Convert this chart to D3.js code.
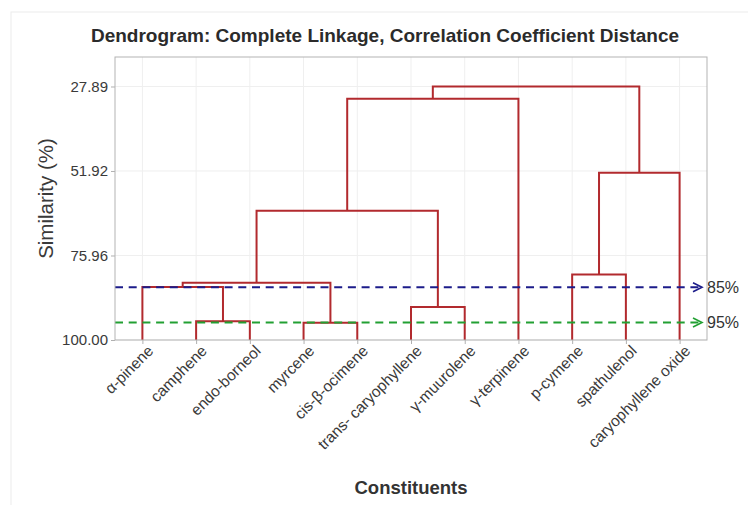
<!DOCTYPE html>
<html>
<head>
<meta charset="utf-8">
<script src="https://cdn.jsdelivr.net/npm/d3@7"></script>
<style>
  body { margin: 0; background: #fff; }
  text { font-family: "Liberation Sans", Arial, sans-serif; }
</style>
</head>
<body>
<div id="chart"></div>
<script>
var width = 748, height = 505;

// leaves in plotted order
var leaves = ["α-pinene", "camphene", "endo-borneol", "myrcene", "cis-β-ocimene",
  "trans- caryophyllene", "γ-muurolene", "γ-terpinene", "p-cymene", "spathulenol",
  "caryophyllene oxide"];

// hclust style merges: negative = leaf (1-based), positive = earlier merge row
var mergeLeft  = [-2, -4, -1, -6, -9, 3, 6, 5, 7, 9];
var mergeRight = [-3, -5, 1, -7, -10, 2, 4, -11, -8, 8];
var mergeSim   = [94.7, 95.1, 84.95, 90.6, 81.4, 83.7, 63.2, 52.4, 31.4, 27.89];

var yTicks = [27.89, 51.92, 75.96, 100.00];
var cutLevels = [85, 95];
var cutLabels = ["85%", "95%"];
var cutColors = ["#1c1c8a", "#22a033"];

var panel = {left: 115, right: 707, top: 57, bottom: 340};

var svg = d3.select("#chart").append("svg")
  .attr("width", width)
  .attr("height", height);

// faint screenshot frame
svg.append("rect")
  .attr("x", 11).attr("y", 12)
  .attr("width", width).attr("height", height)
  .attr("fill", "none")
  .attr("stroke", "#ececec");

var x = d3.scalePoint()
  .domain(leaves)
  .range([panel.left, panel.right])
  .padding(0.51);

var y = d3.scaleLinear()
  .domain([100, 19.5])
  .range([panel.bottom, panel.top]);

// grid
svg.append("g").selectAll("line.gy")
  .data(yTicks)
  .enter().append("line")
    .attr("x1", panel.left).attr("x2", panel.right)
    .attr("y1", y).attr("y2", y)
    .attr("stroke", "#efefef");

svg.append("g").selectAll("line.gx")
  .data(leaves)
  .enter().append("line")
    .attr("x1", x).attr("x2", x)
    .attr("y1", panel.top).attr("y2", panel.bottom)
    .attr("stroke", "#efefef");

// axes
var yAxis = svg.append("g")
  .attr("transform", "translate(" + panel.left + ",0)")
  .call(d3.axisLeft(y).tickValues(yTicks).tickFormat(d3.format(".2f")).tickSize(4).tickPadding(3));
yAxis.select(".domain").remove();
yAxis.selectAll("line").attr("stroke", "#b0b0b0");
yAxis.selectAll("text")
  .style("font-size", "15px")
  .attr("fill", "#3a3a3a");

var xAxis = svg.append("g")
  .attr("transform", "translate(0," + panel.bottom + ")")
  .call(d3.axisBottom(x).tickSize(4).tickFormat(""));
xAxis.select(".domain").remove();
xAxis.selectAll("line").attr("stroke", "#b0b0b0");

svg.append("g").selectAll("text")
  .data(leaves)
  .enter().append("text")
    .attr("transform", function(d) {
      return "translate(" + (x(d) + 8) + "," + (panel.bottom + 8) + ") rotate(-45)";
    })
    .attr("text-anchor", "end")
    .attr("dy", "0.35em")
    .style("font-size", "15.5px")
    .attr("fill", "#3a3a3a")
    .text(function(d) { return d; });

// dendrogram links
var nodeX = [], nodeY = [];
function pos(i) {
  if (i < 0) return [x(leaves[-i - 1]), y(100)];
  return [nodeX[i - 1], nodeY[i - 1]];
}
var segs = [];
mergeSim.forEach(function(h, k) {
  var a = pos(mergeLeft[k]), b = pos(mergeRight[k]);
  var yy = y(h);
  nodeX[k] = (a[0] + b[0]) / 2;
  nodeY[k] = yy;
  segs.push([[a[0], a[1]], [a[0], yy], [b[0], yy], [b[0], b[1]]]);
});

svg.append("g").selectAll("path")
  .data(segs)
  .enter().append("path")
    .attr("d", d3.line())
    .attr("fill", "none")
    .attr("stroke", "#b22a2e")
    .attr("stroke-width", 2);

// cut lines with arrows
var cuts = svg.append("g").selectAll("g")
  .data(cutLevels)
  .enter().append("g");

cuts.append("line")
  .attr("x1", panel.left).attr("x2", 701)
  .attr("y1", y).attr("y2", y)
  .attr("stroke", function(d, i) { return cutColors[i]; })
  .attr("stroke-width", 2)
  .attr("stroke-dasharray", "8,5.7");

cuts.append("path")
  .attr("d", function(d) {
    return "M693," + (y(d) - 4.5) + "L702," + y(d) + "L693," + (y(d) + 4.5);
  })
  .attr("fill", "none")
  .attr("stroke", function(d, i) { return cutColors[i]; })
  .attr("stroke-width", 1.6);

cuts.append("text")
  .attr("x", 707)
  .attr("y", y)
  .attr("dy", "0.36em")
  .style("font-size", "16px")
  .attr("fill", "#333")
  .text(function(d, i) { return cutLabels[i]; });

// panel border
svg.append("rect")
  .attr("x", panel.left).attr("y", panel.top)
  .attr("width", panel.right - panel.left)
  .attr("height", panel.bottom - panel.top)
  .attr("fill", "none")
  .attr("stroke", "#b3b3b3");

// titles
svg.append("text")
  .attr("x", 385).attr("y", 42)
  .attr("text-anchor", "middle")
  .style("font-size", "19px")
  .style("font-weight", "bold")
  .attr("fill", "#2b2b2b")
  .text("Dendrogram: Complete Linkage, Correlation Coefficient Distance");

svg.append("text")
  .attr("transform", "translate(53," + ((panel.top + panel.bottom) / 2) + ") rotate(-90)")
  .attr("text-anchor", "middle")
  .style("font-size", "20.5px")
  .attr("fill", "#3a3a3a")
  .text("Similarity (%)");

svg.append("text")
  .attr("x", (panel.left + panel.right) / 2).attr("y", 494)
  .attr("text-anchor", "middle")
  .style("font-size", "18.5px")
  .style("font-weight", "bold")
  .attr("fill", "#333")
  .text("Constituents");
</script>
</body>
</html>
